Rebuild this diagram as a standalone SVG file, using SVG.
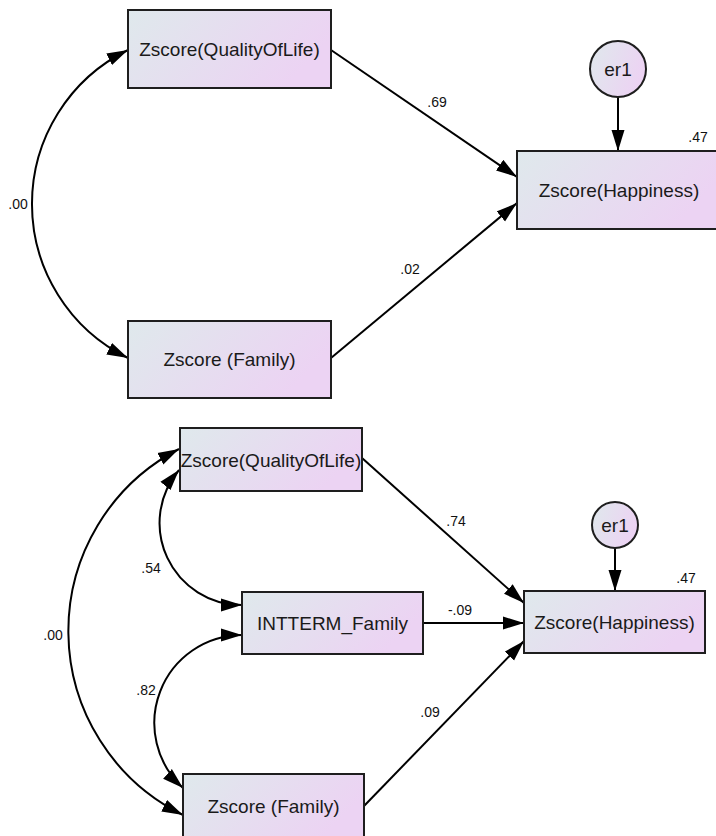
<svg xmlns="http://www.w3.org/2000/svg" width="716" height="836" viewBox="0 0 716 836">
  <defs>
    <linearGradient id="fillObs" x1="0" y1="0" x2="1" y2="0.35">
      <stop offset="0" stop-color="#dfe9ec"/>
      <stop offset="1" stop-color="#ecd3f3"/>
    </linearGradient>
    <marker id="head" markerUnits="userSpaceOnUse" markerWidth="22" markerHeight="14" refX="21" refY="7" orient="auto-start-reverse">
      <path d="M0,0.5 L21,7 L0,13.5 Z" fill="#000"/>
    </marker>
    <style>
      .box { fill: url(#fillObs); stroke: #1e1e1e; stroke-width: 2; }
      .lbl { font-family: "Liberation Sans", Arial, sans-serif; font-size: 19px; fill: #1a1a1a; text-anchor: middle; }
      .num { font-family: "Liberation Sans", Arial, sans-serif; font-size: 14px; fill: #111; text-anchor: middle; }
      .path { fill: none; stroke: #000; stroke-width: 2; marker-end: url(#head); }
      .cov { fill: none; stroke: #000; stroke-width: 2; marker-start: url(#head); marker-end: url(#head); }
    </style>
  </defs>

  <!-- Model 1 connectors -->
  <g id="connectors-model1">
    <path class="cov" d="M128,50 A171.5,171.5 0 0 0 128,358"/>
    <line class="path" x1="331" y1="50" x2="517" y2="177"/>
    <line class="path" x1="331" y1="358" x2="517" y2="203"/>
    <line class="path" x1="618" y1="97" x2="618" y2="151"/>
    <text class="num" x="18" y="209">.00</text>
    <text class="num" x="437" y="107">.69</text>
    <text class="num" x="410" y="274">.02</text>
    <text class="num" x="698" y="142">.47</text>
  </g>

  <!-- Model 1 nodes -->
  <g id="m1-quality">
    <rect class="box" x="128" y="10" width="203" height="78"/>
    <text class="lbl" x="229.5" y="56">Zscore(QualityOfLife)</text>
  </g>
  <g id="m1-family">
    <rect class="box" x="128" y="321" width="203" height="77"/>
    <text class="lbl" x="229.5" y="366">Zscore (Family)</text>
  </g>
  <g id="m1-happiness">
    <rect class="box" x="517" y="151" width="203" height="78"/>
    <text class="lbl" x="619" y="197">Zscore(Happiness)</text>
  </g>
  <g id="m1-er1">
    <circle class="box" cx="618" cy="69" r="28"/>
    <text class="lbl" x="618" y="76">er1</text>
  </g>

  <!-- Model 2 connectors -->
  <g id="connectors-model2">
    <path class="cov" d="M179,449 A205,205 0 0 0 183,815"/>
    <path class="cov" d="M179,470 A82,82 0 0 0 242,605"/>
    <path class="cov" d="M242,635 A88,88 0 0 0 183,788"/>
    <line class="path" x1="362" y1="458" x2="524" y2="603"/>
    <line class="path" x1="423" y1="623" x2="524" y2="623"/>
    <line class="path" x1="364" y1="806" x2="524" y2="641"/>
    <line class="path" x1="615" y1="548" x2="615" y2="591"/>
    <text class="num" x="456" y="526">.74</text>
    <text class="num" x="460" y="615">-.09</text>
    <text class="num" x="430" y="717">.09</text>
    <text class="num" x="151" y="573">.54</text>
    <text class="num" x="53" y="640">.00</text>
    <text class="num" x="146" y="695">.82</text>
    <text class="num" x="686" y="583">.47</text>
  </g>

  <!-- Model 2 nodes -->
  <g id="m2-quality">
    <rect class="box" x="180" y="428" width="182" height="63"/>
    <text class="lbl" x="271" y="467">Zscore(QualityOfLife)</text>
  </g>
  <g id="m2-intterm">
    <rect class="box" x="242" y="592" width="181" height="62"/>
    <text class="lbl" x="332.5" y="630">INTTERM_Family</text>
  </g>
  <g id="m2-happiness">
    <rect class="box" x="524" y="591" width="181" height="62"/>
    <text class="lbl" x="614.5" y="629">Zscore(Happiness)</text>
  </g>
  <g id="m2-family">
    <rect class="box" x="183" y="774" width="181" height="63"/>
    <text class="lbl" x="273.5" y="813">Zscore (Family)</text>
  </g>
  <g id="m2-er1">
    <circle class="box" cx="615" cy="525" r="23"/>
    <text class="lbl" x="615" y="532">er1</text>
  </g>
</svg>
